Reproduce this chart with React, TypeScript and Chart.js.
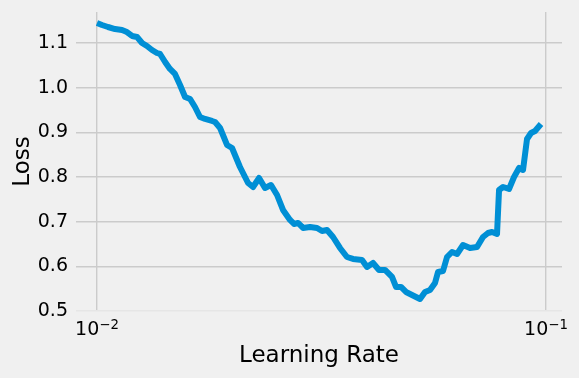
import { useEffect, useRef } from "react";
import { Chart, registerables } from "chart.js";

Chart.register(...registerables);

const learningRates = [
  0.01, 0.01026, 0.01058, 0.01097, 0.01137, 0.01166, 0.01197, 0.01228, 0.0126, 0.01292,
  0.01326, 0.0136, 0.01382, 0.01418, 0.01454, 0.01492, 0.01531, 0.01571, 0.01612, 0.01653,
  0.01696, 0.01741, 0.01804, 0.01832, 0.0188, 0.01948, 0.01999, 0.02082, 0.0217, 0.02226,
  0.02296, 0.02367, 0.02441, 0.02518, 0.02596, 0.02691, 0.02747, 0.02804, 0.02877, 0.02982,
  0.03091, 0.03171, 0.03253, 0.03355, 0.03477, 0.03604, 0.03717, 0.03893, 0.03994, 0.04119,
  0.04247, 0.0438, 0.0454, 0.04634, 0.04754, 0.04878, 0.0503, 0.05241, 0.05377, 0.05517,
  0.0566, 0.05748, 0.05897, 0.0602, 0.06176, 0.06337, 0.06535, 0.06773, 0.07021, 0.0724,
  0.07428, 0.07582, 0.07779, 0.0786, 0.08023, 0.08273, 0.08488, 0.08709, 0.08889, 0.09073,
  0.09261, 0.09453, 0.09747,
];

const losses = [
  1.1448, 1.1403, 1.1358, 1.1313, 1.1291, 1.1246, 1.1157, 1.1134, 1.1, 1.0933,
  1.0843, 1.0776, 1.0754, 1.0575, 1.0418, 1.0306, 1.006, 0.9791, 0.9746, 0.9567,
  0.9343, 0.9299, 0.9254, 0.9231, 0.9097, 0.8717, 0.8649, 0.8224, 0.7866, 0.7776,
  0.7978, 0.7754, 0.7821, 0.7597, 0.7262, 0.7038, 0.6948, 0.6971, 0.6859, 0.6881,
  0.6859, 0.6791, 0.6814, 0.6657, 0.6411, 0.6209, 0.6165, 0.6142, 0.5986, 0.6075,
  0.5918, 0.5918, 0.5762, 0.5538, 0.5538, 0.5426, 0.5359, 0.5269, 0.5426, 0.5471,
  0.5627, 0.5874, 0.5896, 0.6209, 0.6321, 0.6276, 0.6478, 0.6411, 0.6433, 0.6657,
  0.6747, 0.6769, 0.6724, 0.7709, 0.7776, 0.7732, 0.8, 0.8202, 0.8157, 0.8851,
  0.8985, 0.903, 0.9187,
];

const yTickValues = [0.5, 0.6, 0.7, 0.8, 0.9, 1.0, 1.1];
const xTickValues = [0.01, 0.1];
const xTickBases = ["10", "10"];
const xTickExponents = ["\u22122", "\u22121"];

const FONT = "'DejaVu Sans', sans-serif";

const powerLabels = {
  id: "powerLabels",
  afterDraw(chart: any) {
    const ctx = chart.ctx;
    const xs = chart.scales.x;
    const baseY = xs.top + 24;
    ctx.save();
    ctx.fillStyle = "#000";
    ctx.textBaseline = "alphabetic";
    ctx.textAlign = "left";
    xTickValues.forEach((v, i) => {
      const px = xs.getPixelForValue(v);
      ctx.font = `19px ${FONT}`;
      const bw = ctx.measureText(xTickBases[i]).width;
      ctx.font = `13.3px ${FONT}`;
      const ew = ctx.measureText(xTickExponents[i]).width;
      const start = px - (bw + ew) / 2;
      ctx.font = `19px ${FONT}`;
      ctx.fillText(xTickBases[i], start, baseY);
      ctx.font = `13.3px ${FONT}`;
      ctx.fillText(xTickExponents[i], start + bw, baseY - 6);
    });
    ctx.restore();
  },
};

export default function App() {
  const ref = useRef<HTMLCanvasElement | null>(null);

  useEffect(() => {
    document.body.style.margin = "0";
    const canvas = ref.current;
    if (!canvas) return;
    const chart = new Chart(canvas, {
      type: "line",
      data: {
        datasets: [
          {
            data: learningRates.map((x, i) => ({ x, y: losses[i] })),
            borderColor: "#008fd5",
            borderWidth: 6,
            pointRadius: 0,
            fill: false,
            tension: 0,
            borderJoinStyle: "round",
            borderCapStyle: "butt",
          },
        ],
      },
      options: {
        responsive: false,
        animation: false,
        layout: { padding: { left: 0, right: 17, top: 12, bottom: 0 } },
        plugins: { legend: { display: false }, tooltip: { enabled: false } },
        scales: {
          x: {
            type: "logarithmic",
            min: 0.00898,
            max: 0.10855,
            afterBuildTicks: (s: any) => {
              s.ticks = xTickValues.map((v) => ({ value: v }));
            },
            afterFit: (s: any) => {
              s.height = 67;
              s.paddingLeft = 0;
              s.paddingRight = 0;
              s.paddingTop = 0;
              s.paddingBottom = 0;
            },
            ticks: {
              autoSkip: false,
              maxRotation: 0,
              padding: 6,
              color: "rgba(0,0,0,0)",
              font: { family: FONT, size: 19 },
              callback: () => "",
            },
            grid: { color: "#cbcbcb", lineWidth: 1.4, drawTicks: false },
            border: { display: false },
            title: {
              display: true,
              text: "Learning Rate",
              color: "#000",
              font: { family: FONT, size: 23 },
              padding: { top: 0, bottom: 8 },
            },
          },
          y: {
            min: 0.5,
            max: 1.1694,
            afterBuildTicks: (s: any) => {
              s.ticks = yTickValues.map((v) => ({ value: v }));
            },
            afterFit: (s: any) => {
              s.width = 76;
              s.paddingTop = 0;
              s.paddingBottom = 0;
              s.paddingLeft = 0;
              s.paddingRight = 0;
            },
            ticks: {
              padding: 8,
              color: "#000",
              font: { family: FONT, size: 19 },
              callback: (v: any) => Number(v).toFixed(1),
            },
            grid: {
              color: (ctx: any) => (ctx.tick && ctx.tick.value === 0.5 ? "#e6e6e6" : "#cbcbcb"),
              lineWidth: 1.4,
              drawTicks: false,
            },
            border: { display: false },
            title: {
              display: true,
              text: "Loss",
              color: "#000",
              font: { family: FONT, size: 23 },
              padding: { top: 9, bottom: 0 },
            },
          },
        },
      },
      plugins: [powerLabels],
    });
    return () => chart.destroy();
  }, []);

  return (
    <div style={{ width: 579, height: 378, background: "#f0f0f0" }}>
      <canvas ref={ref} width={579} height={378} style={{ display: "block" }} />
    </div>
  );
}
